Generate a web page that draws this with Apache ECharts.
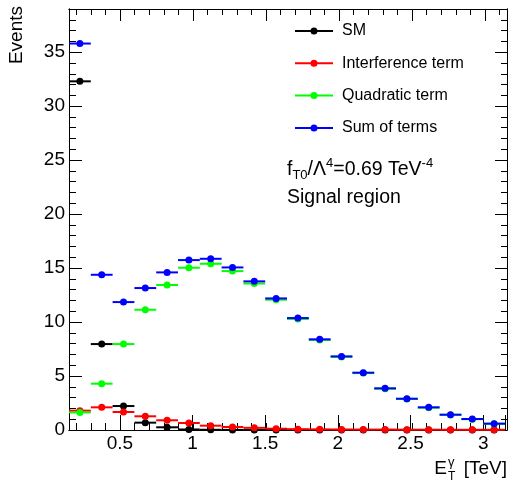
<!DOCTYPE html>
<html>
<head>
<meta charset="utf-8">
<script src="https://cdn.jsdelivr.net/npm/echarts@6/dist/echarts.min.js"></script>
<style>
html,body{margin:0;padding:0;background:#fff;}
#chart{width:508px;height:482px;}
</style>
</head>
<body>
<div id="chart"></div>
<script>
// Bin edges of E_T^gamma [TeV]
const binEdges = [0.15, 0.30, 0.45, 0.60, 0.75, 0.90, 1.05, 1.20, 1.35, 1.50, 1.65,
                  1.80, 1.95, 2.10, 2.25, 2.40, 2.55, 2.70, 2.85, 3.00, 3.15];
// Events per bin
const smValues     = [32.3, 7.96, 2.22, 0.68, 0.25, 0.05, 0.02, 0.01, 0, 0, 0, 0, 0, 0, 0, 0, 0, 0, 0, 0];
const interfValues = [1.79, 2.10, 1.67, 1.27, 0.90, 0.65, 0.40, 0.28, 0.20, 0.12, 0.08, 0.06, 0.05, 0.04, 0.04, 0.03, 0.03, 0.02, 0.02, 0.02];
const quadValues   = [1.63, 4.29, 7.96, 11.14, 13.43, 15.03, 15.40, 14.72, 13.57, 12.07, 10.29, 8.34, 6.77, 5.27, 3.82, 2.87, 2.07, 1.40, 1.00, 0.57];
const sumValues    = [35.8, 14.38, 11.85, 13.15, 14.60, 15.74, 15.86, 15.06, 13.77, 12.19, 10.37, 8.40, 6.82, 5.31, 3.86, 2.90, 2.10, 1.42, 1.02, 0.59];
const seriesNames  = ['SM', 'Interference term', 'Quadratic term', 'Sum of terms'];
const seriesColors = ['#000000', '#ff0000', '#00ff00', '#0000ff'];

const FONT = '"Liberation Sans", Arial, Helvetica, sans-serif';
const chart = echarts.init(document.getElementById('chart'), null, {renderer: 'canvas'});

function binData(values) {
  return values.map((v, i) => [binEdges[i], binEdges[i + 1], v]);
}

function renderPoint(params, api) {
  const lo = api.value(0), hi = api.value(1), v = api.value(2);
  const a = api.coord([lo, v]);
  const b = api.coord([hi, v]);
  const c = api.coord([(lo + hi) / 2, v]);
  const color = api.visual('color');
  return {
    type: 'group',
    children: [
      {type: 'line', shape: {x1: a[0], y1: a[1], x2: b[0], y2: b[1]}, style: {stroke: color, lineWidth: 2}},
      {type: 'circle', shape: {cx: c[0], cy: c[1], r: 3.5}, style: {fill: color}}
    ]
  };
}

const allValues = [smValues, interfValues, quadValues, sumValues];
const series = seriesNames.map((name, k) => ({
  name: name,
  type: 'custom',
  xAxisIndex: 0,
  yAxisIndex: 0,
  clip: false,
  itemStyle: {color: seriesColors[k]},
  encode: {x: [0, 1], y: 2},
  renderItem: renderPoint,
  data: binData(allValues[k])
}));

const gridRect = {left: 69, top: 9, width: 438, height: 421};
const xMin = binEdges[0], xMax = binEdges[binEdges.length - 1];
const yMin = 0, yMax = 39;

function xAxisDef(idx, pos, split, tickLen, withLabels) {
  return {
    gridIndex: idx, type: 'value', position: pos, min: xMin, max: xMax, splitNumber: split,
    axisLine: {show: true, onZero: false, lineStyle: {color: '#000', width: 1}},
    axisTick: {show: true, inside: true, length: tickLen, lineStyle: {color: '#000', width: 1}},
    axisLabel: withLabels ? {
      show: true, fontSize: 19, color: '#000', fontFamily: FONT, margin: 4,
      formatter: v => (Math.abs(v * 2 - Math.round(v * 2)) < 1e-6 ? String(v) : '')
    } : {show: false},
    splitLine: {show: false}
  };
}
function yAxisDef(idx, pos, interval, tickLen, withLabels) {
  return {
    gridIndex: idx, type: 'value', position: pos, min: yMin, max: yMax, interval: interval,
    axisLine: {show: true, onZero: false, lineStyle: {color: '#000', width: 1}},
    axisTick: {show: true, inside: true, length: tickLen, lineStyle: {color: '#000', width: 1}},
    axisLabel: withLabels ? {
      show: true, fontSize: 19, color: '#000', fontFamily: FONT, margin: 4,
      formatter: v => (v % 5 === 0 ? String(v) : '')
    } : {show: false},
    splitLine: {show: false}
  };
}

const option = {
  backgroundColor: '#fff',
  animation: false,
  textStyle: {fontFamily: FONT},
  grid: [0, 1, 2, 3].map(() => Object.assign({containLabel: false, show: false}, gridRect)),
  xAxis: [
    xAxisDef(0, 'bottom', 6, 15, true),
    xAxisDef(1, 'top', 6, 12, false),
    xAxisDef(2, 'bottom', 30, 7, false),
    xAxisDef(3, 'top', 30, 6, false)
  ],
  yAxis: [
    yAxisDef(0, 'left', 5, 13, true),
    yAxisDef(1, 'right', 5, 12, false),
    yAxisDef(2, 'left', 1, 7, false),
    yAxisDef(3, 'right', 1, 6, false)
  ],
  legend: {
    orient: 'vertical',
    left: 295,
    top: 23,
    padding: 0,
    itemGap: 16.3,
    itemWidth: 38,
    itemHeight: 7,
    icon: 'path://M0,2.5L38,2.5L38,4.5L0,4.5Z M15.5,3.5A3.5,3.5,0,1,1,22.5,3.5A3.5,3.5,0,1,1,15.5,3.5Z',
    textStyle: {fontSize: 16, color: '#000', fontFamily: FONT, padding: [0, 0, 0, 4]},
    data: seriesNames
  },
  graphic: [
    {
      type: 'text', x: 17, y: 6, rotation: Math.PI / 2,
      style: {text: 'Events', fontSize: 19, fontFamily: FONT, fill: '#000', align: 'right', verticalAlign: 'middle'}
    },
    {
      type: 'text', x: 507, y: 478,
      style: {text: '[TeV]', fontSize: 19, fontFamily: FONT, fill: '#000', align: 'right', verticalAlign: 'bottom'}
    },
    {
      type: 'text', x: 447, y: 478,
      style: {text: 'E', fontSize: 19, fontFamily: FONT, fill: '#000', align: 'right', verticalAlign: 'bottom'}
    },
    {
      type: 'text', x: 448, y: 462,
      style: {text: 'γ', fontSize: 13, fontFamily: FONT, fill: '#000', align: 'left', verticalAlign: 'middle'}
    },
    {
      type: 'text', x: 448, y: 477,
      style: {text: 'T', fontSize: 12, fontFamily: FONT, fill: '#000', align: 'left', verticalAlign: 'middle'}
    },
    {
      type: 'text', x: 287, y: 157,
      style: {
        text: '{n|f}{sub|T0}{n|/Λ}{sup|4}{n|=0.69 TeV}{sup|-4}',
        fontFamily: FONT, fill: '#000', align: 'left', verticalAlign: 'top',
        rich: {
          n: {fontSize: 19.5, fontFamily: FONT, fill: '#000', lineHeight: 25, verticalAlign: 'middle'},
          sub: {fontSize: 13, fontFamily: FONT, fill: '#000', lineHeight: 13, verticalAlign: 'bottom'},
          sup: {fontSize: 13, fontFamily: FONT, fill: '#000', lineHeight: 13, verticalAlign: 'top'}
        }
      }
    },
    {
      type: 'text', x: 287, y: 208,
      style: {text: 'Signal region', fontSize: 19.5, fontFamily: FONT, fill: '#000', align: 'left', verticalAlign: 'bottom'}
    }
  ],
  series: series
};
chart.setOption(option);
</script>
</body>
</html>
